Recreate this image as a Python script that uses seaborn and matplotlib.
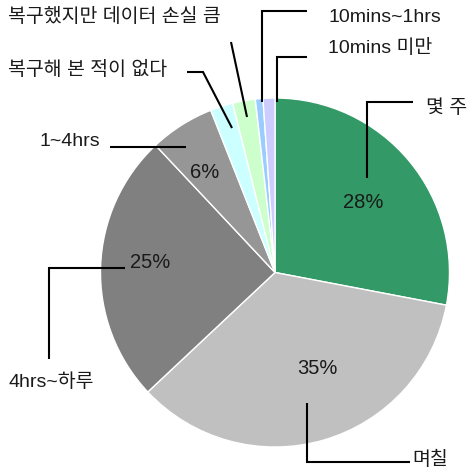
import matplotlib
matplotlib.use("Agg")
import matplotlib.pyplot as plt
import seaborn as sns

# ---- data ----
categories = ["몇 주", "며칠", "4hrs~하루", "1~4hrs", "복구해 본 적이 없다",
              "복구했지만 데이터 손실 큼", "10mins~1hrs", "10mins 미만"]
values = [28, 35, 25, 6, 2.1, 2.1, 0.7, 1.1]
pct_labels = ["28%", "35%", "25%", "6%", "", "", "", ""]
colors = ["#339966", "#C0C0C0", "#808080", "#969696",
          "#CCFFFF", "#CCFFCC", "#99CCFF", "#CCCCFF"]

sns.set_style("white")
plt.rcParams["font.family"] = ["Liberation Sans", "Noto Sans CJK KR", "DejaVu Sans"]

W, H = 469, 472
fig = plt.figure(figsize=(W / 100, H / 100), dpi=100)
ax = fig.add_axes([0, 0, 1, 1])

# y axis inverted: startangle -90 points up, counterclock=True renders clockwise
ax.pie(values, colors=colors, startangle=-90, counterclock=True,
       center=(275, 272.5), radius=174.5, frame=True,
       wedgeprops=dict(edgecolor="white", linewidth=1.0))
ax.set_xlim(0, W)
ax.set_ylim(H, 0)
ax.set_aspect("equal")
ax.axis("off")

# percentage labels (layout positions)
pct_pos = [(363, 203), (317, 369), (150, 263), (205, 172)]
for lab, (x, y) in zip(pct_labels, pct_pos):
    ax.text(x, y, lab, ha="center", va="center", fontsize=14.5, color="#1a1a1a")

# category labels and leader lines (layout)
label_layout = [
    (426, 108, "left"),
    (412, 460, "left"),
    (8, 382, "left"),
    (100, 141, "right"),
    (8, 70, "left"),
    (8, 17, "left"),
    (328, 18, "left"),
    (328, 48, "left"),
]
leaders = [
    [(413, 102), (367, 102), (367, 178)],
    [(307, 403), (307, 462), (410, 462)],
    [(125, 268), (49, 268), (49, 359)],
    [(110, 147), (186, 147)],
    [(187, 72), (203, 72), (232, 128)],
    [(231, 42), (247, 117)],
    [(307, 11), (262, 11), (262, 102)],
    [(307, 57), (277, 57), (277, 102)],
]
for cat, (x, y, ha), pts in zip(categories, label_layout, leaders):
    ax.text(x, y, cat, ha=ha, va="center", fontsize=14, color="#1a1a1a")
    xs = [p[0] for p in pts]
    ys = [p[1] for p in pts]
    ax.plot(xs, ys, color="black", linewidth=1.5, solid_capstyle="butt",
            solid_joinstyle="miter")

fig.savefig("out.png", dpi=100)
